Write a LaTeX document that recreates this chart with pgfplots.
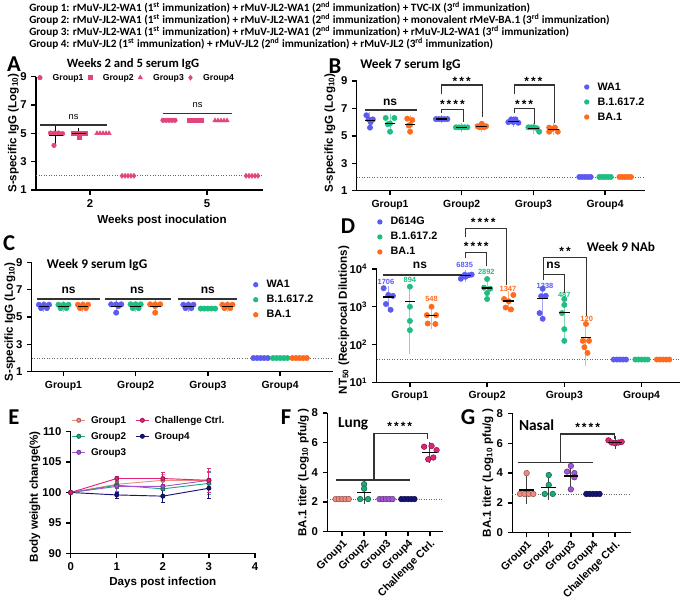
\documentclass[border=0pt]{standalone}
\usepackage{pgfplots}
\pgfplotsset{compat=1.18}
\usepackage{fontspec}
\setmainfont{Liberation Sans}
\newfontfamily\calib{Carlito}
\newcommand{\fs}[1]{\fontsize{#1}{#1}\selectfont}

\definecolor{pk}{HTML}{E2457E}
\definecolor{wa}{HTML}{5B5BF2}
\definecolor{dl}{HTML}{1DBE80}
\definecolor{ba}{HTML}{FF6A1C}
\definecolor{g1c}{HTML}{F28A80}
\definecolor{g2c}{HTML}{1FA878}
\definecolor{g3c}{HTML}{A455D6}
\definecolor{g4c}{HTML}{14147A}
\definecolor{ccc}{HTML}{E5227A}

\tikzset{sig/.style={black!80, line width=0.9pt},
  stars/.style={font=\bfseries\fs{9}, yshift=-2pt, inner sep=0pt},
  nsf/.style={font=\bfseries\fs{9}, inner sep=0pt}}

\pgfplotsset{
  prism/.style={
    scale only axis, axis x line*=bottom, axis y line*=left,
    axis line style={line width=1.1pt, black},
    tick style={line width=1.1pt, black},
    tick align=outside, major tick length=3.5pt,
    clip=false,
    /pgf/number format/assume math mode=true,
    tick label style={font=\bfseries\fs{8.5}},
    xticklabel style={font=\bfseries\fs{7.8}},
    label style={font=\bfseries\fs{8.7}},
    legend style={draw=none, fill=none, inner sep=0pt, font=\bfseries\fs{8.1},
      nodes={inner sep=1pt, text height=6pt, text depth=1.5pt}, row sep=1.75pt},
    legend cell align=left,
    legend image code/.code={\path[draw=none, fill=none] (0cm,0cm) -- (0.35cm,0cm); \fill[##1, draw=none] (0.1cm,0cm) circle (2pt);},
  },
}

% points, error bar, mean line of one group
\newcommand{\sg}[7]{%
  \addplot[forget plot, only marks, #2] coordinates {#4};
  \addplot[forget plot, color=#1, mark=none, line width=0.75pt, error bars/.cd, y dir=both, y explicit,
    error bar style={color=#1, line width=0.75pt}, error mark options={color=#1, line width=0.75pt, mark size=\capsz}]
    coordinates {(#3,#5) += (0,#6) -= (0,#7)};
  \addplot[forget plot, only marks, mark=-, mark size=\meanw, black, line width=0.9pt] coordinates {(#3,#5)};
}

\begin{document}
\begin{tikzpicture}[x=0.75pt, y=0.75pt]
\useasboundingbox (0,0) rectangle (683,603);
\coordinate (oA) at (36,413);
\coordinate (oB) at (356.7,412.3);
\coordinate (oC) at (31.7,231.3);
\coordinate (oD) at (376.7,220.7);
\coordinate (oE) at (70.7,49.7);
\coordinate (oF) at (327.3,71.3);
\coordinate (oG) at (512.3,70.3);

% header
\begin{scope}[every node/.style={anchor=west, inner sep=0pt, font=\calib\bfseries\fs{8.4}}]
\node at (29,595.5) {Group 1: rMuV-JL2-WA1 (1\textsuperscript{st} immunization) + rMuV-JL2-WA1 (2\textsuperscript{nd} immunization) + TVC-IX (3\textsuperscript{rd} immunization)};
\node at (29,583.5) {Group 2: rMuV-JL2-WA1 (1\textsuperscript{st} immunization) + rMuV-JL2-WA1 (2\textsuperscript{nd} immunization) + monovalent rMeV-BA.1 (3\textsuperscript{rd} immunization)};
\node at (29,571.5) {Group 3: rMuV-JL2-WA1 (1\textsuperscript{st} immunization) + rMuV-JL2-WA1 (2\textsuperscript{nd} immunization) + rMuV-JL2-WA1 (3\textsuperscript{rd} immunization)};
\node at (29,559.5) {Group 4: rMuV-JL2 (1\textsuperscript{st} immunization) + rMuV-JL2 (2\textsuperscript{nd} immunization) + rMuV-JL2 (3\textsuperscript{rd} immunization)};
\end{scope}

% panel letters and titles
\begin{scope}[every node/.style={font=\calib\bfseries\fs{17}, inner sep=0pt}]
\node at (14,539) {A};
\node at (335,537) {B};
\node at (9,360) {C};
\node at (348,377) {D};
\node at (14,186) {E};
\node at (286,186) {F};
\node at (468,186) {G};
\end{scope}
\begin{scope}[every node/.style={font=\calib\bfseries\fs{10}, inner sep=0pt}]
\node[font=\calib\bfseries\fs{9.5}] at (133,539) {Weeks 2 and 5 serum IgG};
\node[anchor=west] at (360,538) {Week 7 serum IgG};
\node[anchor=west] at (46.7,338) {Week 9 serum IgG};
\node at (621,356.3) {Week 9 NAb};
\end{scope}

%%%%% A
\def\capsz{3pt}\def\meanw{5.5pt}
\begin{axis}[prism, at={(oA)}, anchor=south west, width=170.25pt, height=85pt,
  xmin=36, xmax=263, ymin=1, ymax=9, xtick={90,207}, xticklabels={2,5}, ytick={1,3,5,7,9},
  xticklabel style={font=\bfseries\fs{8.5}},
  xlabel={Weeks post inoculation}, ylabel={S-specific IgG (Log\textsubscript{10})},
  xlabel style={at={(axis description cs:0.555,-0.265)}, anchor=center},
  ylabel style={at={(axis description cs:-0.1,0.503)}, anchor=center},
  legend columns=4,
  legend style={at={(axis description cs:0.003,0.991)}, anchor=west, font=\bfseries\fs{6.5},
    /tikz/every even column/.append style={column sep=1.7pt}},
  legend image code/.code={\path[draw=none, fill=none] (0cm,0cm) -- (0.38cm,0cm); \draw[#1] plot coordinates {(0.08cm,0cm)};},
]
\addlegendimage{only marks, mark=*, mark size=1.7pt, color=pk}\addlegendentry{Group1}
\addlegendimage{only marks, mark=square*, mark size=1.5pt, color=pk}\addlegendentry{Group2}
\addlegendimage{only marks, mark=triangle*, mark size=1.9pt, color=pk}\addlegendentry{Group3}
\addlegendimage{only marks, mark=diamond*, mark size=1.9pt, color=pk}\addlegendentry{Group4}
\draw[black!60, line width=0.6pt, dash pattern=on 0.7pt off 1.2pt] (axis cs:36,2) -- (axis cs:263,2);
\sg{black}{mark=*, mark size=1.7pt, color=pk}{56}{(50.5,5.02)(54.5,5.02)(58.5,5.02)(62.5,4.98)(54,4.15)}{4.85}{0.4}{0.4}
\sg{black}{mark=square*, mark size=1.5pt, color=pk}{79}{(73,5.02)(77,5.02)(81,5.02)(85,5.02)(79,4.75)}{4.97}{0.1}{0.1}
\addplot[only marks, mark=triangle*, mark size=1.9pt, color=pk] coordinates {(97,5.0)(100,5.0)(103,5.0)(106,5.0)(109,5.0)};
\addplot[only marks, mark=diamond*, mark size=1.9pt, color=pk] coordinates {(122,2)(125,2)(128,2)(131,2)(134,2)};
\addplot[only marks, mark=*, mark size=1.7pt, color=pk] coordinates {(163,5.92)(166,5.92)(169,5.92)(172,5.92)(175,5.92)};
\addplot[only marks, mark=square*, mark size=1.5pt, color=pk] coordinates {(189,5.92)(192,5.92)(195,5.92)(198,5.92)(201,5.92)};
\addplot[only marks, mark=triangle*, mark size=1.9pt, color=pk] coordinates {(215,5.9)(218,5.9)(221,5.9)(224,5.9)(227,5.9)};
\addplot[only marks, mark=diamond*, mark size=1.9pt, color=pk] coordinates {(246,2)(249,2)(252,2)(255,2)(258,2)};
\draw[sig] (axis cs:40,5.59) -- (axis cs:107,5.59);
\node[font=\fs{7}] at (axis cs:73.5,6.15) {ns};
\draw[sig] (axis cs:163,6.41) -- (axis cs:232,6.41);
\node[font=\fs{7}] at (axis cs:197.5,7.0) {ns};
\end{axis}

%%%%% B
\def\capsz{3pt}\def\meanw{4pt}
\begin{axis}[prism, at={(oB)}, anchor=south west, width=216.2pt, height=82.3pt,
  xmin=0.535, xmax=4.556, ymin=1, ymax=9, ytick={1,3,5,7,9},
  xtick={1,2,3,4}, xticklabels={Group1,Group2,Group3,Group4},
  ylabel={S-specific IgG (Log\textsubscript{10})},
  ylabel style={at={(axis description cs:-0.093,0.526)}, anchor=center},
  legend style={at={(axis description cs:0.784,1.005)}, anchor=north west},
]
\addlegendimage{wa}\addlegendentry{WA1}
\addlegendimage{dl}\addlegendentry{B.1.617.2}
\addlegendimage{ba}\addlegendentry{BA.1}
\draw[black!60, line width=0.6pt, dash pattern=on 0.7pt off 1.2pt] (axis cs:0.535,2) -- (axis cs:4.556,2);
\sg{wa!55}{mark=*, mark size=2pt, color=wa}{0.72}{(0.67,6.5)(0.70,6.2)(0.76,6.2)(0.73,6.0)(0.72,5.6)}{6.1}{0.35}{0.35}
\sg{dl!55}{mark=*, mark size=2pt, color=dl}{1.0}{(0.94,6.3)(1.06,6.3)(1.0,5.9)(0.97,5.85)(1.0,5.3)}{5.9}{0.4}{0.4}
\sg{ba!55}{mark=*, mark size=2pt, color=ba}{1.28}{(1.24,6.25)(1.31,6.15)(1.28,5.8)(1.26,5.75)(1.28,5.3)}{5.85}{0.35}{0.35}
\sg{wa!55}{mark=*, mark size=2pt, color=wa}{1.72}{(1.64,6.22)(1.68,6.22)(1.72,6.22)(1.76,6.22)(1.80,6.22)}{6.22}{0.02}{0.02}
\sg{dl!55}{mark=*, mark size=2pt, color=dl}{2.0}{(1.92,5.62)(1.96,5.62)(2.0,5.62)(2.04,5.62)(2.08,5.62)}{5.62}{0.02}{0.02}
\sg{ba!55}{mark=*, mark size=2pt, color=ba}{2.28}{(2.28,5.88)(2.22,5.7)(2.34,5.7)(2.25,5.62)(2.31,5.62)}{5.7}{0.12}{0.12}
\sg{wa!55}{mark=*, mark size=2pt, color=wa}{2.72}{(2.69,6.2)(2.75,6.2)(2.65,6.0)(2.72,6.0)(2.79,5.95)}{6.05}{0.12}{0.12}
\sg{dl!55}{mark=*, mark size=2pt, color=dl}{3.0}{(2.93,5.62)(2.97,5.62)(3.01,5.62)(3.05,5.55)(3.08,5.3)}{5.55}{0.12}{0.12}
\sg{ba!55}{mark=*, mark size=2pt, color=ba}{3.28}{(3.22,5.6)(3.3,5.6)(3.26,5.5)(3.22,5.3)(3.34,5.3)}{5.48}{0.15}{0.15}
\addplot[only marks, mark=*, mark size=2pt, color=wa] coordinates {(3.64,2)(3.68,2)(3.72,2)(3.76,2)(3.80,2)};
\addplot[only marks, mark=*, mark size=2pt, color=dl] coordinates {(3.92,2)(3.96,2)(4.0,2)(4.04,2)(4.08,2)};
\addplot[only marks, mark=*, mark size=2pt, color=ba] coordinates {(4.20,2)(4.24,2)(4.28,2)(4.32,2)(4.36,2)};
\draw[sig] (axis cs:0.65,6.88) -- (axis cs:1.38,6.88);
\node[nsf] at (axis cs:1.0,7.45) {ns};
\draw[sig] (axis cs:1.72,6.64) -- (axis cs:1.72,6.93) -- (axis cs:2.02,6.93) -- (axis cs:2.02,6.03);
\node[stars] at (axis cs:1.87,7.49) {*\,*\,*\,*};
\draw[sig] (axis cs:1.72,8.03) -- (axis cs:1.72,8.71) -- (axis cs:2.29,8.71) -- (axis cs:2.29,6.4);
\node[stars] at (axis cs:2.0,9.2) {*\,*\,*};
\draw[sig] (axis cs:2.74,6.64) -- (axis cs:2.74,7.0) -- (axis cs:3.01,7.0) -- (axis cs:3.01,5.84);
\node[stars] at (axis cs:2.87,7.49) {*\,*\,*};
\draw[sig] (axis cs:2.74,8.03) -- (axis cs:2.74,8.71) -- (axis cs:3.29,8.71) -- (axis cs:3.29,5.91);
\node[stars] at (axis cs:3.0,9.2) {*\,*\,*};
\end{axis}

%%%%% C
\def\capsz{3pt}\def\meanw{4pt}
\begin{axis}[prism, at={(oC)}, anchor=south west, width=226pt, height=82pt,
  xmin=0.56, xmax=4.733, ymin=1, ymax=9, ytick={1,3,5,7,9},
  xtick={1,2,3,4}, xticklabels={Group1,Group2,Group3,Group4},
  ylabel={S-specific IgG (Log\textsubscript{10})},
  ylabel style={at={(axis description cs:-0.072,0.455)}, anchor=center},
  legend style={at={(axis description cs:0.73,0.856)}, anchor=north west},
]
\addlegendimage{wa}\addlegendentry{WA1}
\addlegendimage{dl}\addlegendentry{B.1.617.2}
\addlegendimage{ba}\addlegendentry{BA.1}
\draw[black!60, line width=0.6pt, dash pattern=on 0.7pt off 1.2pt] (axis cs:0.56,2) -- (axis cs:4.733,2);
\sg{wa!55}{mark=*, mark size=2pt, color=wa}{0.73}{(0.66,5.9)(0.73,5.9)(0.80,5.9)(0.69,5.65)(0.77,5.65)}{5.78}{0.1}{0.1}
\sg{dl!55}{mark=*, mark size=2pt, color=dl}{1.0}{(0.93,5.9)(1.0,5.9)(1.07,5.9)(0.96,5.65)(1.04,5.65)}{5.78}{0.1}{0.1}
\sg{ba!55}{mark=*, mark size=2pt, color=ba}{1.27}{(1.20,5.9)(1.27,5.9)(1.34,5.9)(1.23,5.65)(1.31,5.65)}{5.78}{0.1}{0.1}
\sg{wa!55}{mark=*, mark size=2pt, color=wa}{1.73}{(1.66,5.93)(1.73,5.93)(1.80,5.93)(1.76,5.8)(1.73,5.32)}{5.78}{0.15}{0.3}
\sg{dl!55}{mark=*, mark size=2pt, color=dl}{2.0}{(1.93,5.93)(2.0,5.93)(2.07,5.93)(1.96,5.65)(2.04,5.65)}{5.78}{0.1}{0.1}
\sg{ba!55}{mark=*, mark size=2pt, color=ba}{2.27}{(2.20,5.93)(2.27,5.93)(2.34,5.93)(2.27,5.8)(2.27,5.32)}{5.78}{0.15}{0.3}
\sg{wa!55}{mark=*, mark size=2pt, color=wa}{2.73}{(2.66,5.9)(2.73,5.9)(2.80,5.9)(2.69,5.65)(2.77,5.65)}{5.78}{0.1}{0.1}
\addplot[only marks, mark=*, mark size=2pt, color=dl] coordinates {(2.90,5.62)(2.95,5.62)(3.0,5.62)(3.05,5.62)(3.10,5.62)};
\sg{ba!55}{mark=*, mark size=2pt, color=ba}{3.27}{(3.20,5.9)(3.27,5.9)(3.34,5.9)(3.23,5.65)(3.31,5.65)}{5.78}{0.1}{0.1}
\addplot[only marks, mark=*, mark size=2pt, color=wa] coordinates {(3.63,2)(3.68,2)(3.73,2)(3.78,2)(3.83,2)};
\addplot[only marks, mark=*, mark size=2pt, color=dl] coordinates {(3.90,2)(3.95,2)(4.0,2)(4.05,2)(4.10,2)};
\addplot[only marks, mark=*, mark size=2pt, color=ba] coordinates {(4.17,2)(4.22,2)(4.27,2)(4.32,2)(4.37,2)};
\draw[sig] (axis cs:0.63,6.32) -- (axis cs:1.5,6.32);
\draw[sig] (axis cs:1.58,6.32) -- (axis cs:2.49,6.32);
\draw[sig] (axis cs:2.59,6.32) -- (axis cs:3.4,6.32);
\node[nsf] at (axis cs:1.07,6.97) {ns};
\node[nsf] at (axis cs:2.02,6.97) {ns};
\node[nsf] at (axis cs:3.0,6.97) {ns};
\end{axis}

%%%%% D
\def\capsz{3pt}\def\meanw{4pt}
\begin{axis}[prism, at={(oD)}, anchor=south west, width=227.5pt, height=85pt,
  xmin=0.57, xmax=4.499, ymode=log, ymin=10, ymax=10000,
  ytick={10,100,1000,10000}, yticklabels={10\textsuperscript{1},10\textsuperscript{2},10\textsuperscript{3},10\textsuperscript{4}},
  minor tick length=0pt,
  xtick={1,2,3,4}, xticklabels={Group1,Group2,Group3,Group4},
  ylabel={NT\textsubscript{50} (Reciprocal Dilutions)},
  ylabel style={at={(axis description cs:-0.108,0.55)}, anchor=center},
  legend style={at={(axis description cs:-0.003,1.473)}, anchor=north west},
]
\addlegendimage{wa}\addlegendentry{D614G}
\addlegendimage{dl}\addlegendentry{B.1.617.2}
\addlegendimage{ba}\addlegendentry{BA.1}
\draw[black!60, line width=0.6pt, dash pattern=on 0.7pt off 1.2pt] (axis cs:0.57,40) -- (axis cs:4.499,40);
\sg{wa!55}{mark=*, mark size=2pt, color=wa}{0.72}{(0.66,3100)(0.72,2050)(0.78,1940)(0.69,1180)(0.75,830)}{1800}{900}{750}
\sg{dl!55}{mark=*, mark size=2pt, color=dl}{1.0}{(1.0,3400)(1.0,1000)(1.0,420)(1.0,240)}{1350}{1250}{1280}
\sg{ba!55}{mark=*, mark size=2pt, color=ba}{1.28}{(1.28,1000)(1.22,600)(1.34,600)(1.23,360)(1.33,350)}{575}{375}{255}
\sg{wa!55}{mark=*, mark size=2pt, color=wa}{1.72}{(1.66,5500)(1.71,7000)(1.76,6800)(1.80,7100)(1.72,6200)}{6600}{700}{800}
\sg{dl!55}{mark=*, mark size=2pt, color=dl}{2.0}{(2.0,5400)(1.96,3200)(2.04,3000)(2.0,2300)(2.0,1600)}{3150}{1700}{1450}
\sg{ba!55}{mark=*, mark size=2pt, color=ba}{2.28}{(2.22,1600)(2.34,2050)(2.28,1400)(2.24,950)(2.31,850)}{1420}{600}{520}
\sg{wa!55}{mark=*, mark size=2pt, color=wa}{2.72}{(2.72,3000)(2.76,1950)(2.70,1900)(2.68,680)(2.72,480)}{1670}{1000}{1040}
\sg{dl!55}{mark=*, mark size=2pt, color=dl}{3.0}{(3.0,1600)(3.0,1120)(2.97,680)(3.0,255)(3.0,125)}{700}{600}{570}
\sg{ba!55}{mark=*, mark size=2pt, color=ba}{3.28}{(3.28,350)(3.24,125)(3.32,125)(3.26,85)(3.3,60)}{150}{105}{115}
\addplot[only marks, mark=*, mark size=2pt, color=wa] coordinates {(3.64,40)(3.68,40)(3.72,40)(3.76,40)(3.80,40)};
\addplot[only marks, mark=*, mark size=2pt, color=dl] coordinates {(3.92,40)(3.96,40)(4.0,40)(4.04,40)(4.08,40)};
\addplot[only marks, mark=*, mark size=2pt, color=ba] coordinates {(4.20,40)(4.24,40)(4.28,40)(4.32,40)(4.36,40)};
\begin{scope}[every node/.style={font=\bfseries\fs{5.6}, inner sep=0pt}]
\node[wa] at (axis cs:0.69,4600) {1706};
\node[dl] at (axis cs:1.0,5200) {894};
\node[ba] at (axis cs:1.28,1600) {548};
\node[wa] at (axis cs:1.71,12600) {6835};
\node[dl] at (axis cs:1.99,8500) {2892};
\node[ba] at (axis cs:2.27,2950) {1347};
\node[wa] at (axis cs:2.75,3600) {1338};
\node[dl] at (axis cs:3.0,2050) {487};
\node[ba] at (axis cs:3.29,470) {120};
\end{scope}
\draw[sig] (axis cs:0.65,6900) -- (axis cs:1.67,6900);
\node[nsf] at (axis cs:1.13,12300) {ns};
\draw[sig] (axis cs:1.725,19000) -- (axis cs:1.725,27500) -- (axis cs:1.99,27500) -- (axis cs:1.99,12300);
\node[stars] at (axis cs:1.86,48000) {*\,*\,*\,*};
\draw[sig] (axis cs:1.725,71000) -- (axis cs:1.725,115000) -- (axis cs:2.25,115000) -- (axis cs:2.25,3800);
\node[stars] at (axis cs:1.95,200000) {*\,*\,*\,*};
\draw[sig] (axis cs:2.73,5000) -- (axis cs:2.73,7200) -- (axis cs:3.0,7200) -- (axis cs:3.0,2300);
\node[nsf] at (axis cs:2.86,12600) {ns};
\draw[sig] (axis cs:2.73,7200) -- (axis cs:2.73,20400) -- (axis cs:3.29,20400) -- (axis cs:3.29,560);
\node[stars] at (axis cs:3.01,35000) {*\,*};
\end{axis}

%%%%% E
\begin{axis}[prism, at={(oE)}, anchor=south west, width=138.2pt, height=91.2pt,
  xmin=0, xmax=4, ymin=90, ymax=110, xtick={0,1,2,3,4}, ytick={90,95,100,105,110},
  xticklabel style={font=\bfseries\fs{8.5}},
  xlabel={Days post infection}, ylabel={Body weight change(\%)},
  xlabel style={at={(axis description cs:0.5,-0.244)}, anchor=center},
  ylabel style={at={(axis description cs:-0.194,0.465)}, anchor=center},
  legend columns=2,
  legend style={at={(axis description cs:0.005,1.148)}, anchor=north west, font=\bfseries\fs{7.4}, row sep=2.5pt,
    /tikz/every odd column/.append style={column sep=3pt},
    /tikz/every even column/.append style={column sep=6pt}},
  legend image code/.code={\draw[mark repeat=2, mark phase=2, #1] plot coordinates {(0cm,0cm) (0.17cm,0cm) (0.34cm,0cm)};},
  every axis plot/.append style={line width=0.7pt, mark=*, mark size=1.5pt,
    error bars/y dir=both, error bars/y explicit},
]
\addlegendimage{g1c, line width=0.7pt, mark=*, mark size=1.5pt, mark options={fill=g1c, draw=g1c!70!black}}\addlegendentry{Group1}
\addlegendimage{ccc, line width=0.7pt, mark=*, mark size=1.5pt, mark options={fill=ccc, draw=ccc!70!black}}\addlegendentry{Challenge Ctrl.}
\addlegendimage{g2c, line width=0.7pt, mark=*, mark size=1.5pt, mark options={fill=g2c, draw=g2c!70!black}}\addlegendentry{Group2}
\addlegendimage{g4c, line width=0.7pt, mark=*, mark size=1.5pt, mark options={fill=g4c, draw=g4c!70!black}}\addlegendentry{Group4}
\addlegendimage{g3c, line width=0.7pt, mark=*, mark size=1.5pt, mark options={fill=g3c, draw=g3c!70!black}}\addlegendentry{Group3}
\addplot[forget plot, g1c, mark options={fill=g1c, draw=g1c!70!black}, error bars/error bar style={g1c, line width=0.6pt}]
  coordinates {(0,100) +- (0,0) (1,101.35) +- (0,0.6) (2,102.0) +- (0,1.0) (3,102.0) +- (0,1.5)};
\addplot[forget plot, g2c, mark options={fill=g2c, draw=g2c!70!black}, error bars/error bar style={g2c, line width=0.6pt}]
  coordinates {(0,100) +- (0,0) (1,101.2) +- (0,0.5) (2,100.6) +- (0,1.3) (3,101.5) +- (0,1.8)};
\addplot[forget plot, g3c, mark options={fill=g3c, draw=g3c!70!black}, error bars/error bar style={g3c, line width=0.6pt}]
  coordinates {(0,100) +- (0,0) (1,101.0) +- (0,0.8) (2,101.0) +- (0,1.5) (3,102.0) +- (0,1.5)};
\addplot[forget plot, g4c, mark options={fill=g4c, draw=g4c!70!black}, error bars/error bar style={g4c, line width=0.6pt}]
  coordinates {(0,100) +- (0,0) (1,99.6) +- (0,0.5) (2,99.4) +- (0,1.0) (3,100.7) +- (0,1.6)};
\addplot[forget plot, ccc, mark options={fill=ccc, draw=ccc!70!black}, error bars/error bar style={ccc, line width=0.6pt}]
  coordinates {(0,100) +- (0,0) (1,102.3) +- (0,0.4) (2,102.3) +- (0,1.0) (3,102.0) +- (0,2.0)};
\end{axis}

%%%%% F
\def\capsz{3.75pt}\def\meanw{5.5pt}
\begin{axis}[prism, at={(oF)}, anchor=south west, width=87pt, height=89pt,
  xmin=0.32, xmax=5.617, ymin=0, ymax=8, ytick={0,2,4,6,8},
  xtick={1,2,3,4,5}, xticklabels={Group1,Group2,Group3,Group4,Challenge Ctrl.},
  xticklabel style={rotate=45, anchor=north east, inner sep=1pt, font=\bfseries\fs{8}},
  ylabel={BA.1 titer (Log\textsubscript{10} pfu/g )},
  ylabel style={at={(axis description cs:-0.207,0.5)}, anchor=center},
]
\draw[black!60, line width=0.6pt, dash pattern=on 0.7pt off 1.2pt] (axis cs:0.32,2.2) -- (axis cs:5.617,2.2);
\addplot[only marks, mark=*, mark size=2.1pt, fill=g1c, draw=g1c!60!black] coordinates {(0.7,2.2)(0.85,2.2)(1.0,2.2)(1.15,2.2)(1.3,2.2)};
\sg{black!75}{mark=*, mark size=2.1pt, fill=g2c, draw=g2c!60!black}{2}{(2.0,3.2)(2.0,2.9)(1.82,2.2)(2.18,2.2)}{2.63}{0.45}{0.45}
\addplot[only marks, mark=*, mark size=2.1pt, fill=g3c, draw=g3c!60!black] coordinates {(2.7,2.2)(2.85,2.2)(3.0,2.2)(3.15,2.2)(3.3,2.2)};
\addplot[only marks, mark=*, mark size=2.1pt, fill=g4c, draw=g4c!60!black] coordinates {(3.7,2.2)(3.85,2.2)(4.0,2.2)(4.15,2.2)(4.3,2.2)};
\sg{black!75}{mark=*, mark size=2.1pt, fill=ccc, draw=ccc!60!black}{5}{(4.74,5.73)(5.08,5.78)(5.31,5.5)(4.93,4.88)(5.16,5.0)}{5.35}{0.35}{0.35}
\draw[sig] (axis cs:0.71,3.48) -- (axis cs:4.09,3.48);
\draw[sig] (axis cs:2.45,3.48) -- (axis cs:2.45,6.63) -- (axis cs:4.88,6.63) -- (axis cs:4.88,6.23);
\node[stars] at (axis cs:3.63,7.26) {*\,*\,*\,*};
\node[font=\calib\bfseries\fs{11.5}, inner sep=0pt] at (axis cs:1.5,7.26) {Lung};
\end{axis}

%%%%% G
\def\capsz{3.75pt}\def\meanw{5.5pt}
\begin{axis}[prism, at={(oG)}, anchor=south west, width=89pt, height=89.4pt,
  xmin=0.35, xmax=5.72, ymin=0, ymax=8, ytick={0,2,4,6,8},
  xtick={1,2,3,4,5}, xticklabels={Group1,Group2,Group3,Group4,Challenge Ctrl.},
  xticklabel style={rotate=45, anchor=north east, inner sep=1pt, font=\bfseries\fs{8}},
  ylabel={BA.1 titer (Log\textsubscript{10} pfu/g )},
  ylabel style={at={(axis description cs:-0.205,0.5)}, anchor=center},
]
\draw[black!60, line width=0.6pt, dash pattern=on 0.7pt off 1.2pt] (axis cs:0.35,2.6) -- (axis cs:5.72,2.6);
\sg{black!75}{mark=*, mark size=2.1pt, fill=g1c, draw=g1c!60!black}{1}{(1.0,4.0)(0.7,2.6)(0.9,2.6)(1.1,2.6)(1.3,2.6)}{2.87}{0.63}{0.63}
\sg{black!75}{mark=*, mark size=2.1pt, fill=g2c, draw=g2c!60!black}{2}{(2.0,3.87)(2.0,3.2)(1.82,2.6)(2.18,2.6)}{3.05}{0.6}{0.55}
\sg{black!75}{mark=*, mark size=2.1pt, fill=g3c, draw=g3c!60!black}{3}{(3.0,4.48)(2.83,4.1)(3.16,4.0)(3.16,3.72)(3.0,2.91)}{3.8}{0.55}{0.55}
\addplot[only marks, mark=*, mark size=2.1pt, fill=g4c, draw=g4c!60!black] coordinates {(3.7,2.6)(3.85,2.6)(4.0,2.6)(4.15,2.6)(4.3,2.6)};
\sg{black!75}{mark=*, mark size=2.1pt, fill=ccc, draw=ccc!60!black}{5}{(4.7,6.2)(4.85,6.05)(5.0,6.0)(5.15,6.05)(5.3,6.1)}{6.08}{0.1}{0.1}
\draw[sig] (axis cs:0.62,4.72) -- (axis cs:4.01,4.72);
\draw[sig] (axis cs:2.53,4.72) -- (axis cs:2.53,6.62) -- (axis cs:4.96,6.62) -- (axis cs:4.96,6.27);
\node[stars] at (axis cs:3.76,7.23) {*\,*\,*\,*};
\node[font=\calib\bfseries\fs{11.5}, inner sep=0pt] at (axis cs:1.45,7.23) {Nasal};
\end{axis}
\end{tikzpicture}
\end{document}
